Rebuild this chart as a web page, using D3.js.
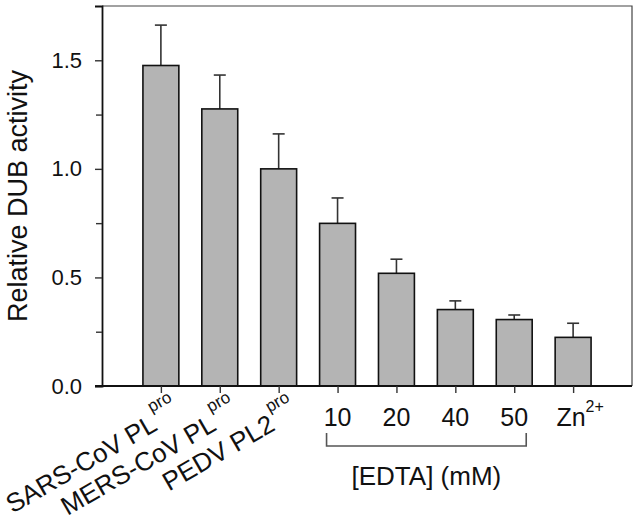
<!DOCTYPE html>
<html>
<head>
<meta charset="utf-8">
<script src="https://cdn.jsdelivr.net/npm/d3@7"></script>
<style>
  body { margin: 0; background: #fff; }
  text { font-family: Arial, "Liberation Sans", sans-serif; fill: #111; }
</style>
</head>
<body>
<div id="chart"></div>
<script>
// bar labels, superscript parts and readings
const categories = ["SARS-CoV PL", "MERS-CoV PL", "PEDV PL2", "10", "20", "40", "50", "Zn"];
const superscripts = ["pro", "pro", "pro", "", "", "", "", "2+"];
const values = [1.476, 1.276, 1.0, 0.749, 0.519, 0.352, 0.306, 0.224];
const errors = [0.186, 0.156, 0.161, 0.117, 0.065, 0.040, 0.021, 0.065];
const yTicks = [0, 0.5, 1.0, 1.5];
const yMinorTicks = [0.25, 0.75, 1.25];
const bracketFrom = 3, bracketTo = 6;   // EDTA group

const width = 640, height = 520;
const mLeft = 102, mRight = 632, mTop = 6, mBottom = 386;

const svg = d3.select("#chart").append("svg")
    .attr("width", width)
    .attr("height", height);

const x = d3.scaleLinear().domain([0, categories.length + 1]).range([mLeft, mRight]);
const y = d3.scaleLinear().domain([0, 1.75]).range([mBottom, mTop]);
const barW = x(0.61) - x(0);

const data = categories.map((c, i) => ({name: c, sup: superscripts[i], value: values[i], err: errors[i], pos: i + 1}));

// frame top/right
svg.append("path")
    .attr("d", `M${mLeft},${mTop}H${mRight}V${mBottom}`)
    .attr("fill", "none")
    .attr("stroke", "#444")
    .attr("stroke-width", 1.2);

// error bars (only upward)
const eb = svg.append("g").attr("stroke", "#333").attr("stroke-width", 1.6);
eb.selectAll("line.v").data(data).enter().append("line")
    .attr("x1", d => x(d.pos)).attr("x2", d => x(d.pos))
    .attr("y1", d => y(d.value)).attr("y2", d => y(d.value + d.err));
eb.selectAll("line.c").data(data).enter().append("line")
    .attr("x1", d => x(d.pos) - 6).attr("x2", d => x(d.pos) + 6)
    .attr("y1", d => y(d.value + d.err)).attr("y2", d => y(d.value + d.err));

// bars
svg.selectAll("rect.bar").data(data).enter().append("rect")
    .attr("class", "bar")
    .attr("x", d => x(d.pos) - barW / 2)
    .attr("width", barW)
    .attr("y", d => y(d.value))
    .attr("height", d => y(0) - y(d.value))
    .attr("fill", "#b4b4b4")
    .attr("stroke", "#111")
    .attr("stroke-width", 1.6);

// y axis
const yAxis = svg.append("g")
    .attr("transform", `translate(${mLeft},0)`)
    .call(d3.axisLeft(y).tickValues(yTicks).tickFormat(d3.format(".1f")).tickSize(7).tickPadding(13));
yAxis.select(".domain").attr("stroke", "#111").attr("stroke-width", 1.8);
yAxis.selectAll(".tick line").attr("stroke", "#333").attr("stroke-width", 1.4);
yAxis.selectAll(".tick text").attr("font-size", 22).attr("font-family", "Arial, 'Liberation Sans', sans-serif").attr("fill", "#111");

svg.append("g")
    .attr("transform", `translate(${mLeft},0)`)
    .call(d3.axisLeft(y).tickValues(yMinorTicks).tickFormat("").tickSize(6))
    .call(g => g.select(".domain").remove())
    .selectAll(".tick line").attr("stroke", "#333").attr("stroke-width", 1.4);

// x axis
const xAxis = svg.append("g")
    .attr("transform", `translate(0,${mBottom})`)
    .call(d3.axisBottom(x).tickValues(data.map(d => d.pos)).tickFormat("").tickSize(7).tickSizeOuter(0));
xAxis.select(".domain").attr("d", `M${mLeft - 7},0H${mRight}`).attr("stroke", "#111").attr("stroke-width", 1.8);
xAxis.selectAll(".tick line").attr("stroke", "#333").attr("stroke-width", 1.4);

// rotated labels for the enzymes
data.filter(d => d.pos <= 3).forEach(d => {
  const t = svg.append("text")
      .attr("transform", `translate(${x(d.pos) + 21},416) rotate(-30)`)
      .attr("text-anchor", "end")
      .attr("font-size", 26);
  t.append("tspan").text(d.name);
  t.append("tspan").attr("font-size", 17).attr("dx", 2).attr("dy", -18).text(d.sup);
});

// horizontal labels
data.filter(d => d.pos > 3).forEach(d => {
  const t = svg.append("text")
      .attr("x", x(d.pos) + (d.sup ? 7 : 0))
      .attr("y", 426)
      .attr("text-anchor", "middle")
      .attr("font-size", 25);
  t.append("tspan").text(d.name);
  if (d.sup) t.append("tspan").attr("font-size", 16).attr("dy", -14).text(d.sup);
});

// EDTA bracket
const bx0 = x(bracketFrom + 1) - 11, bx1 = x(bracketTo + 1) + 12;
svg.append("path")
    .attr("d", `M${bx0},433V446H${bx1}V433`)
    .attr("fill", "none")
    .attr("stroke", "#555")
    .attr("stroke-width", 1.6);
svg.append("text")
    .attr("x", (bx0 + bx1) / 2)
    .attr("y", 485)
    .attr("text-anchor", "middle")
    .attr("font-size", 26)
    .text("[EDTA] (mM)");

// y title
svg.append("text")
    .attr("transform", `translate(27,${(mTop + mBottom) / 2}) rotate(-90)`)
    .attr("text-anchor", "middle")
    .attr("font-size", 27)
    .text("Relative DUB activity");
</script>
</body>
</html>
